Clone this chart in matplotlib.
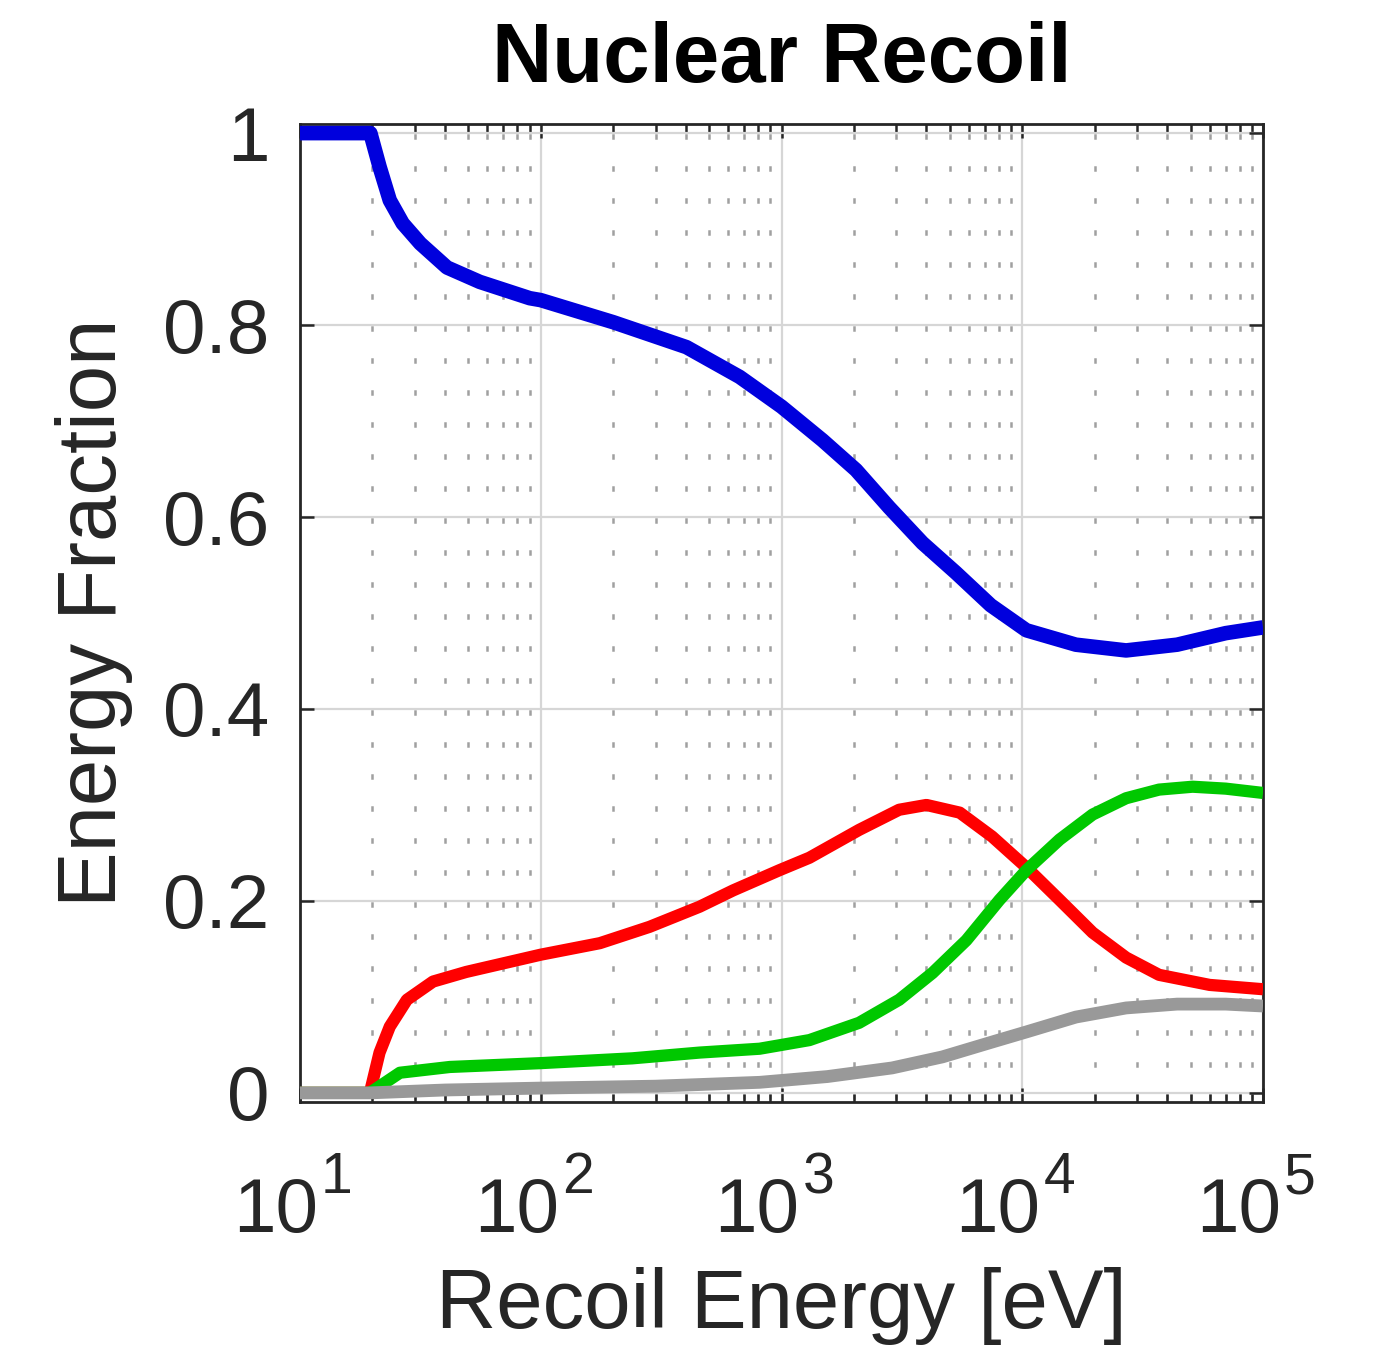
import matplotlib
matplotlib.use("Agg")
import matplotlib.pyplot as plt
from matplotlib.ticker import LogLocator, NullFormatter, FixedLocator
from matplotlib.transforms import offset_copy

plt.rcParams['font.family'] = ['Liberation Sans', 'DejaVu Sans']

# Data
energy_blue = [10, 19.6, 21.4, 23.6, 26.7, 31.6, 40.8, 55.8, 90, 100, 200, 403, 670, 1000, 1480,
               2040, 2800, 3850, 5300, 7400, 10400, 16700, 27000, 44000, 70000, 100000]
frac_blue = [1.0, 1.0, 0.965, 0.93, 0.906, 0.885, 0.86, 0.845, 0.828, 0.826, 0.803, 0.777, 0.746,
             0.715, 0.68, 0.649, 0.61, 0.573, 0.542, 0.508, 0.482, 0.467, 0.461, 0.467, 0.479, 0.485]

energy_red = [10, 19.5, 21.4, 23.6, 27.8, 35.7, 49, 100, 176, 283, 457, 630, 980, 1306, 2100, 3080,
              4000, 5500, 7500, 10400, 14300, 19600, 27000, 37000, 60000, 100000]
frac_red = [0.0, 0.0, 0.042, 0.069, 0.097, 0.116, 0.126, 0.144, 0.156, 0.173, 0.194, 0.211, 0.232,
            0.245, 0.274, 0.295, 0.300, 0.292, 0.267, 0.235, 0.201, 0.167, 0.141, 0.123, 0.1125, 0.108]

energy_green = [10, 19.5, 26, 41.9, 100, 240, 457, 811, 1306, 2100, 3080, 4240, 5860, 8040, 10400,
                14300, 19600, 27000, 37000, 51000, 70000, 100000]
frac_green = [0.0, 0.0, 0.021, 0.027, 0.031, 0.036, 0.042, 0.046, 0.055, 0.073, 0.097, 0.125, 0.159,
              0.201, 0.232, 0.264, 0.29, 0.307, 0.316, 0.319, 0.317, 0.3125]

energy_gray = [10, 19.5, 40, 100, 300, 811, 1550, 2880, 4660, 7500, 10400, 16700, 27000, 44000,
               70000, 100000]
frac_gray = [0.0, 0.0, 0.003, 0.005, 0.007, 0.011, 0.017, 0.026, 0.0375, 0.053, 0.0635, 0.079,
             0.0885, 0.0925, 0.0925, 0.0905]

yticks = [0, 0.2, 0.4, 0.6, 0.8, 1]
yticklabels = ['0', '0.2', '0.4', '0.6', '0.8', '1']
xticks = [1e1, 1e2, 1e3, 1e4, 1e5]
xtick_bases = ['10', '10', '10', '10', '10']
xtick_exponents = ['1', '2', '3', '4', '5']

fig = plt.figure(figsize=(13.78, 13.46), dpi=100)
ax = fig.add_axes([300 / 1378, 1 - 1102 / 1346, 963 / 1378, 978 / 1346])

kw = dict(solid_capstyle='butt', solid_joinstyle='round')
ax.plot(energy_blue, frac_blue, color='#0000dd', lw=10.5, zorder=3, **kw)
ax.plot(energy_red, frac_red, color='#ff0000', lw=8.8, zorder=4, **kw)
ax.plot(energy_green, frac_green, color='#00c800', lw=8.8, zorder=5, **kw)
ax.plot(energy_gray, frac_gray, color='#999999', lw=9.2, zorder=6, **kw)

ax.set_xscale('log')
ax.set_xlim(10, 1e5)
ax.set_ylim(-0.0095, 1.0095)
ax.xaxis.set_major_locator(FixedLocator(xticks))
ax.xaxis.set_minor_locator(LogLocator(base=10, subs=[2, 3, 4, 5, 6, 7, 8, 9], numticks=100))
ax.xaxis.set_minor_formatter(NullFormatter())
ax.set_xticklabels([''] * len(xticks))
ax.set_yticks(yticks)
ax.set_yticklabels(yticklabels)

ax.grid(True, which='major', color='#d6d6d6', lw=1.6, ls='-')
ax.grid(True, which='minor', axis='x', color='#a0a0a0', lw=1.8, ls=(11.7, (2.2, 10.6)))
ax.set_axisbelow(True)

ax.tick_params(which='both', direction='in', top=True, right=True, colors='#262626',
               labelsize=55, width=1.8)
ax.tick_params(axis='y', pad=22)
ax.tick_params(which='major', length=10)
ax.tick_params(which='minor', length=6)
for s in ax.spines.values():
    s.set_color('#262626')
    s.set_linewidth(2)

# x tick labels: base "10" with a raised exponent
xtr = ax.get_xaxis_transform()
base_tr = offset_copy(xtr, fig=fig, x=18, y=-130, units='dots')
exp_tr = offset_copy(xtr, fig=fig, x=21, y=-91, units='dots')
for xv, b, e in zip(xticks, xtick_bases, xtick_exponents):
    ax.text(xv, 0, b, transform=base_tr, ha='right', va='baseline', fontsize=55,
            color='#262626', clip_on=False)
    ax.text(xv, 0, e, transform=exp_tr, ha='left', va='baseline', fontsize=41,
            color='#262626', clip_on=False)

ax.set_xlabel('Recoil Energy [eV]', fontsize=60, color='#262626', labelpad=115)
ax.set_ylabel('Energy Fraction', fontsize=60, color='#262626', labelpad=22)
ax.set_title('Nuclear Recoil', fontsize=60, fontweight='bold', pad=30)

fig.savefig('out.png', dpi=100)
